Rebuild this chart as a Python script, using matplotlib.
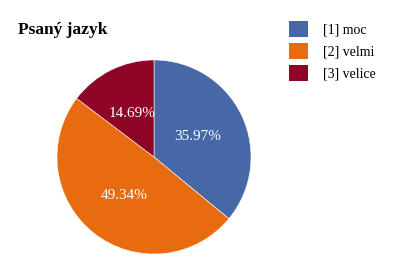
import matplotlib.pyplot as plt
from matplotlib.patches import Patch

labels = ['[1] moc', '[2] velmi', '[3] velice']
values = [35.97, 49.34, 14.69]
colors = ['#4668a6', '#e96b10', '#8e0527']

plt.rcParams['font.family'] = ['Liberation Serif', 'DejaVu Serif']

fig = plt.figure(figsize=(4.2, 2.8), dpi=100)
fig.set_facecolor('white')

# pie axes: center (154,157) px, radius ~98 px
ax = fig.add_axes([(154 - 98) / 420, (280 - 157 - 98) / 280, 196 / 420, 196 / 280])
wedges, texts, autotexts = ax.pie(
    values, colors=colors, startangle=90, counterclock=False,
    autopct='%.2f%%', pctdistance=0.5,
    wedgeprops=dict(edgecolor='white', linewidth=0.4),
    textprops=dict(color='white', fontsize=11),
)
ax.set_xlim(-1.01, 1.01)
ax.set_ylim(-1.01, 1.01)
ax.set_aspect('equal')

# Title
fig.text(18 / 420, 1 - 30 / 280, 'Psaný jazyk', fontsize=12.5, fontweight='bold',
         ha='left', va='center')

# Legend
handles = [Patch(facecolor=c, edgecolor='none') for c in colors]
fig.legend(handles, labels, loc='upper left', bbox_to_anchor=(283 / 420, 1 - 15 / 280),
           frameon=False, fontsize=10, handlelength=1.4, handleheight=1.4,
           handletextpad=1.1, labelspacing=0.45, borderaxespad=0)

plt.savefig('out.png', dpi=100)
